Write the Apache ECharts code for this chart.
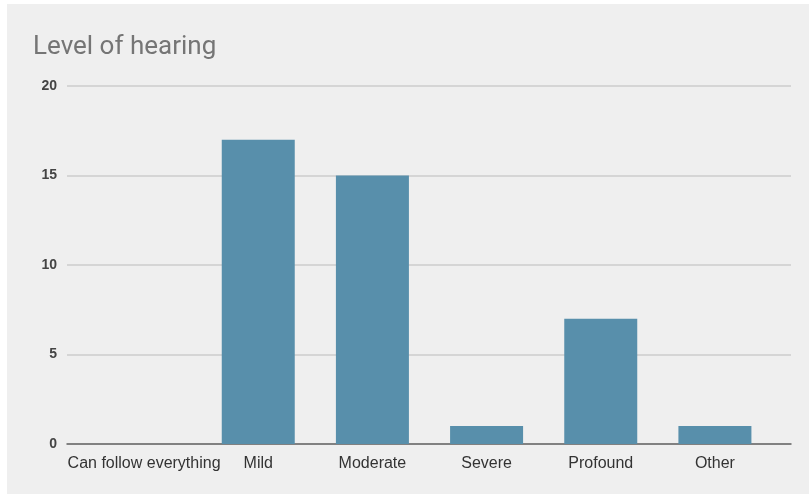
<!DOCTYPE html>
<html>
<head>
<meta charset="utf-8">
<script src="https://cdn.jsdelivr.net/npm/echarts@6/dist/echarts.min.js"></script>
<style>
  html, body { margin: 0; padding: 0; background: #ffffff; }
  #chart { position: absolute; left: 7px; top: 4px; width: 802px; height: 490px; }
</style>
</head>
<body>
<div id="chart"></div>
<script>
const categories = ['Can follow everything', 'Mild', 'Moderate', 'Severe', 'Profound', 'Other'];
const responses = [0, 17, 15, 1, 7, 1];
const yTicks = { min: 0, max: 20, interval: 5 };

const chart = echarts.init(document.getElementById('chart'));
chart.setOption({
  backgroundColor: '#efefef',
  animation: false,
  title: {
    text: 'Level of hearing',
    left: 21,
    top: 25,
    textStyle: { fontFamily: 'Roboto', fontSize: 26, fontWeight: 'normal', color: '#757575' }
  },
  grid: [
    { left: 80, right: 37, top: 82, bottom: 50 },
    { left: 60, right: 18, top: 82, bottom: 50 }
  ],
  xAxis: [
    {
      type: 'category',
      gridIndex: 0,
      data: categories,
      axisLine: { show: false },
      axisTick: { show: false },
      axisLabel: {
        margin: 12,
        interval: 0,
        fontFamily: 'Liberation Sans',
        fontSize: 16,
        color: '#333333'
      }
    },
    {
      type: 'value',
      gridIndex: 1,
      min: 0,
      max: 1,
      axisLine: { show: true, lineStyle: { color: '#666666', width: 1.5 } },
      axisTick: { show: false },
      axisLabel: { show: false },
      splitLine: { show: false }
    }
  ],
  yAxis: [
    {
      type: 'value',
      gridIndex: 0,
      min: yTicks.min,
      max: yTicks.max,
      interval: yTicks.interval,
      axisLine: { show: false },
      axisTick: { show: false },
      axisLabel: { show: false },
      splitLine: { show: false }
    },
    {
      type: 'value',
      gridIndex: 1,
      min: yTicks.min,
      max: yTicks.max,
      interval: yTicks.interval,
      axisLine: { show: false },
      axisTick: { show: false },
      axisLabel: {
        margin: 10,
        fontFamily: 'Liberation Sans',
        fontSize: 14,
        fontWeight: 'bold',
        color: '#444444'
      },
      splitLine: { lineStyle: { color: '#cccccc', width: 1.5 } }
    }
  ],
  series: [
    {
      type: 'bar',
      xAxisIndex: 0,
      yAxisIndex: 0,
      data: responses,
      barWidth: 73,
      z: 3,
      itemStyle: { color: '#588fab' }
    }
  ]
});
</script>
</body>
</html>
